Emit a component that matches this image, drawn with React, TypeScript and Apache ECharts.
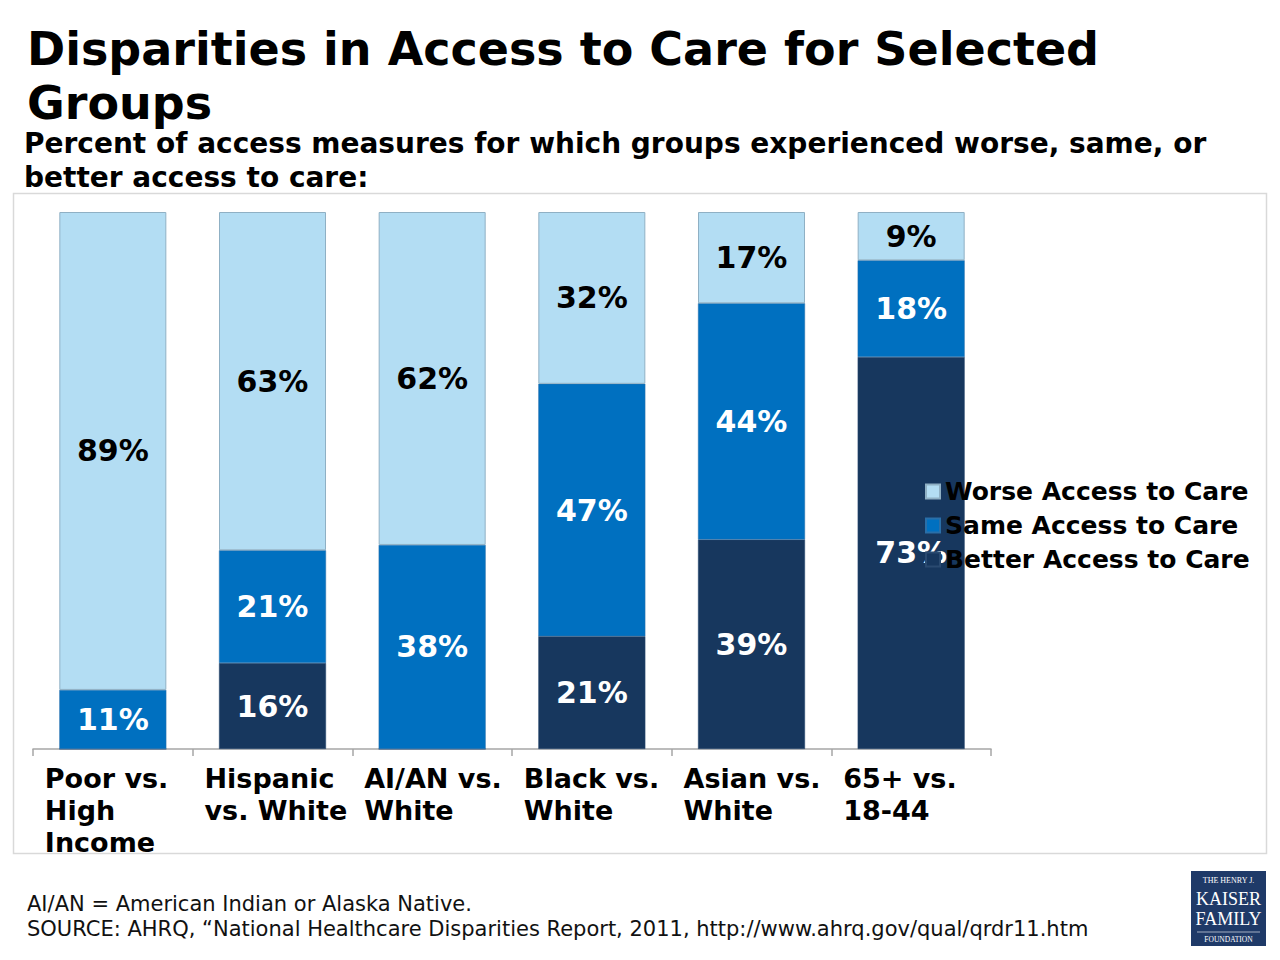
import React, { useEffect, useRef } from "react";
import * as echarts from "echarts";

const categories = [
  "Poor vs.\nHigh\nIncome",
  "Hispanic\nvs. White",
  "AI/AN vs.\nWhite",
  "Black vs.\nWhite",
  "Asian vs.\nWhite",
  "65+ vs.\n18-44",
];
const betterAccess = [0, 16, 0, 21, 39, 73];
const sameAccess = [11, 21, 38, 47, 44, 18];
const worseAccess = [89, 63, 62, 32, 17, 9];
const seriesNames = ["Worse Access to Care", "Same Access to Care", "Better Access to Care"];

const FONT = "DejaVu Sans";

export default function App() {
  const ref = useRef<HTMLDivElement>(null);
  useEffect(() => {
    if (!ref.current) return;
    const chart = echarts.init(ref.current, null, { renderer: "svg" });
    const labelFmt = (p: any) => (p.value ? p.value + "%" : "");
    const barBase = {
      type: "bar",
      stack: "total",
      barWidth: 107,
      label: {
        show: true,
        position: "inside",
        formatter: labelFmt,
        fontFamily: FONT,
        fontWeight: "bold",
        fontSize: 30,
      },
    };
    chart.setOption({
      animation: false,
      textStyle: { fontFamily: FONT },
      title: [
        {
          text: "Disparities in Access to Care for Selected\nGroups",
          left: 27,
          top: 22,
          padding: 0,
          textStyle: { fontFamily: FONT, fontWeight: "bold", fontSize: 46, lineHeight: 54, color: "#000" },
        },
        {
          text: "Percent of access measures for which groups experienced worse, same, or\nbetter access to care:",
          left: 24,
          top: 126,
          padding: 0,
          textStyle: { fontFamily: FONT, fontWeight: "bold", fontSize: 28, lineHeight: 34, color: "#000" },
        },
        {
          text: "AI/AN = American Indian or Alaska Native.\nSOURCE: AHRQ, \u201cNational Healthcare Disparities Report, 2011, http://www.ahrq.gov/qual/qrdr11.htm",
          left: 27,
          top: 891,
          padding: 0,
          textStyle: { fontFamily: FONT, fontWeight: "normal", fontSize: 21, lineHeight: 25, color: "#111" },
        },
      ],
      graphic: [
        {
          type: "rect",
          shape: { x: 13.5, y: 193.5, width: 1253, height: 660 },
          style: { fill: "none", stroke: "#d9d9d9", lineWidth: 1.5 },
          z: -1,
        },
        {
          type: "group",
          left: 1191,
          top: 871,
          children: [
            { type: "rect", shape: { x: 0, y: 0, width: 75, height: 75 }, style: { fill: "#1f3a68" } },
            { type: "text", x: 37.5, y: 9, style: { text: "THE HENRY J.", fill: "#fff", font: "8px 'Liberation Serif'", align: "center", verticalAlign: "middle" } },
            { type: "text", x: 37.5, y: 28, style: { text: "KAISER", fill: "#fff", font: "18px 'Liberation Serif'", align: "center", verticalAlign: "middle" } },
            { type: "text", x: 37.5, y: 48, style: { text: "FAMILY", fill: "#fff", font: "18px 'Liberation Serif'", align: "center", verticalAlign: "middle" } },
            { type: "line", shape: { x1: 6, y1: 61, x2: 69, y2: 61 }, style: { stroke: "#fff", lineWidth: 0.6 } },
            { type: "text", x: 37.5, y: 68, style: { text: "FOUNDATION", fill: "#fff", font: "7.5px 'Liberation Serif'", align: "center", verticalAlign: "middle" } },
          ],
        },
      ],
      legend: {
        data: seriesNames,
        orient: "vertical",
        left: 920,
        top: 474,
        itemWidth: 14,
        itemHeight: 14,
        itemGap: 9,
        icon: "rect",
        textStyle: { fontFamily: FONT, fontWeight: "bold", fontSize: 25, lineHeight: 24, color: "#000" },
      },
      grid: { left: 33, right: 289, top: 212, bottom: 211, containLabel: false },
      xAxis: {
        type: "category",
        data: categories,
        axisLine: { lineStyle: { color: "#a6a6a6", width: 1.5 } },
        axisTick: { show: true, length: 7, lineStyle: { color: "#a6a6a6", width: 1.5 } },
        axisLabel: {
          margin: 13,
          interval: 0,
          align: "center",
          formatter: (v: string) => v.split("\n").map((l) => `{a|${l}}`).join("\n"),
          rich: {
            a: {
              width: 136,
              align: "left",
              fontFamily: FONT,
              fontWeight: "bold",
              fontSize: 27,
              lineHeight: 32,
              color: "#000",
            },
          },
        },
      },
      yAxis: { type: "value", min: 0, max: 100, show: false, splitLine: { show: false } },
      series: [
        {
          ...barBase,
          name: seriesNames[2],
          data: betterAccess,
          itemStyle: { color: "#17375e", borderColor: "#2a4a70", borderWidth: 0.5 },
          label: { ...barBase.label, color: "#fff" },
        },
        {
          ...barBase,
          name: seriesNames[1],
          data: sameAccess,
          itemStyle: { color: "#0070c0", borderColor: "#2a6fa8", borderWidth: 0.5 },
          label: { ...barBase.label, color: "#fff" },
        },
        {
          ...barBase,
          name: seriesNames[0],
          data: worseAccess,
          itemStyle: { color: "#b3ddf3", borderColor: "#8fb0c4", borderWidth: 1 },
          label: { ...barBase.label, color: "#000" },
        },
      ],
    });
    return () => chart.dispose();
  }, []);
  return (
    <div
      ref={ref}
      style={{ position: "absolute", left: 0, top: 0, width: 1280, height: 960, background: "#fff" }}
    />
  );
}
